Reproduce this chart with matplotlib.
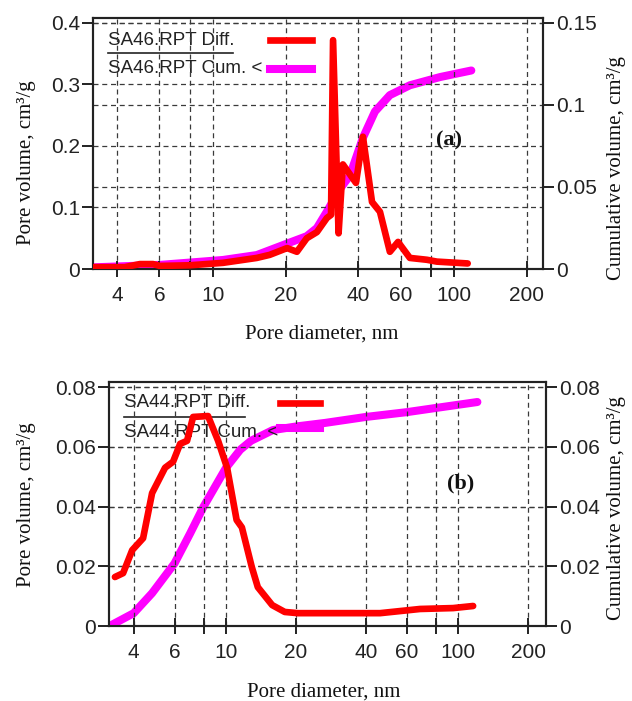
import numpy as np
import matplotlib
matplotlib.use("Agg")
import matplotlib.pyplot as plt
from matplotlib.lines import Line2D
from matplotlib.ticker import FixedLocator, FuncFormatter, NullFormatter

# ---- data ----
# (a) SA46
diam_a_diff = [3.18, 4.3, 4.98, 5.64, 6.03, 8.0, 11.0, 15.2, 17.2, 20.3, 22.3, 24.5, 27.0,
               29.7, 30.9, 31.5, 33.2, 34.6, 39.2, 41.9, 45.7, 49.3, 54.2, 58.6, 65.6,
               77.2, 84.9, 114]
diff_a = [0.003, 0.003, 0.008, 0.008, 0.005, 0.006, 0.010, 0.018, 0.023, 0.034, 0.028, 0.050,
          0.060, 0.083, 0.088, 0.372, 0.058, 0.17, 0.14, 0.215, 0.109, 0.093, 0.028, 0.044,
          0.018, 0.015, 0.012, 0.009]
diam_a_cum = [3.18, 6.03, 11.0, 15.2, 20.3, 24.5, 27.0, 29.7, 33.7, 37.0, 39.6, 41.9, 47.0,
              54.2, 65.6, 87.5, 118]
cum_a = [0.001, 0.0025, 0.0055, 0.0085, 0.0155, 0.020, 0.025, 0.035, 0.049, 0.057, 0.0695,
         0.080, 0.096, 0.106, 0.112, 0.117, 0.121]

# (b) SA44
diam_b_diff = [3.32, 3.60, 3.94, 4.39, 4.80, 5.46, 5.91, 6.34, 6.79, 7.21, 8.36, 9.24, 10.1,
               11.1, 11.7, 12.9, 13.7, 15.8, 17.9, 20.4, 26.7, 46.1, 68.5, 95.1, 116]
diff_b = [0.0164, 0.0177, 0.0254, 0.0294, 0.0445, 0.053, 0.055, 0.061, 0.062, 0.070, 0.0703,
          0.062, 0.053, 0.0355, 0.033, 0.0198, 0.013, 0.007, 0.0047, 0.0043, 0.0043, 0.0043,
          0.0057, 0.006, 0.0067]
diam_b_cum = [3.15, 4.0, 4.8, 6.0, 7.0, 8.0, 10.0, 11.5, 12.8, 15.9, 20.0, 26.7, 40.0, 60.0,
              80.0, 121]
cum_b = [0.0, 0.0043, 0.011, 0.021, 0.031, 0.040, 0.053, 0.059, 0.062, 0.0656, 0.0668, 0.068,
         0.070, 0.0716, 0.073, 0.075]

x_major = [4, 6, 10, 20, 40, 60, 100, 200]
x_minor = [8, 80]

SANS = 'Liberation Sans'
SERIF = 'Liberation Serif'
RED = '#ff0000'
MAG = '#ff00ff'
INK = '#222222'
GRID = dict(color='#3a3a3a', linestyle=(0, (4, 3)), linewidth=0.9)

W, H = 632, 701
fig = plt.figure(figsize=(W / 100, H / 100), dpi=100)


def fmt(v, pos=None):
    return '%g' % v


def panel(rect, xlim, yl, yr, yl_ticks, yr_ticks, d_diff, v_diff, d_cum, v_cum,
          names, tag, tag_xy, leg):
    ax = fig.add_axes(rect)
    axr = ax.twinx()
    ax.set_zorder(axr.get_zorder() + 1)
    ax.patch.set_visible(False)

    ax.set_xscale('log')
    ax.set_xlim(*xlim)
    ax.set_ylim(0, yl)
    axr.set_ylim(0, yr)
    ax.xaxis.set_major_locator(FixedLocator(x_major))
    ax.xaxis.set_minor_locator(FixedLocator(x_minor))
    ax.xaxis.set_major_formatter(FuncFormatter(fmt))
    ax.xaxis.set_minor_formatter(NullFormatter())
    ax.yaxis.set_major_locator(FixedLocator(yl_ticks))
    ax.yaxis.set_major_formatter(FuncFormatter(fmt))
    axr.yaxis.set_major_locator(FixedLocator(yr_ticks))
    axr.yaxis.set_major_formatter(FuncFormatter(fmt))

    ax.grid(True, which='both', axis='x', **GRID)
    ax.grid(True, axis='y', **GRID)
    axr.grid(True, axis='y', **GRID)

    ax.tick_params(axis='x', which='both', direction='inout', length=11, width=1.4,
                   pad=7, labelsize=15, colors=INK)
    ax.tick_params(axis='y', direction='out', length=8, width=1.4, pad=1.5,
                   labelsize=15, colors=INK)
    axr.tick_params(axis='y', direction='out', length=8, width=1.4, pad=1.5,
                    labelsize=15, colors=INK)
    for a in (ax, axr):
        for lab in a.get_xticklabels() + a.get_yticklabels():
            lab.set_family(SANS)
        for s in a.spines.values():
            s.set_linewidth(1.5)
            s.set_color(INK)

    ax.plot(d_diff, v_diff, color=RED, lw=4.8, zorder=3,
            solid_joinstyle='round', solid_capstyle='round')
    axr.plot(d_cum, v_cum, color=MAG, lw=5.8, zorder=3,
             solid_joinstyle='round', solid_capstyle='round')

    # legend block: label text, separator rule under the first entry, line samples
    tx, ty1, ty2, hx0, hx1, hy1, hy2, sep_x1, sep_y = leg
    for name, yy in zip(names, (ty1, ty2)):
        ax.text(tx, yy, name, transform=ax.transAxes, ha='left', va='center',
                family=SANS, fontsize=13.5, color=INK, zorder=1)
    ax.add_line(Line2D([tx, sep_x1], [sep_y, sep_y], transform=ax.transAxes,
                       color=INK, lw=1.2, zorder=1))
    ax.add_line(Line2D([hx0, hx1], [hy1, hy1], transform=ax.transAxes,
                       color=RED, lw=4.8, zorder=2))
    ax.add_line(Line2D([hx0, hx1], [hy2, hy2], transform=ax.transAxes,
                       color=MAG, lw=5.8, zorder=2))

    ax.text(tag_xy[0], tag_xy[1], tag, transform=ax.transAxes, ha='center', va='center',
            family=SERIF, fontweight='bold', fontsize=16, color='#111')
    return ax


# (a)
panel([93 / W, 1 - 269 / H, 450 / W, 251 / H], (3.18, 234), 0.408, 0.153,
      [0, 0.1, 0.2, 0.3, 0.4], [0, 0.05, 0.1, 0.15],
      diam_a_diff, diff_a, diam_a_cum, cum_a,
      ['SA46.RPT Diff.', 'SA46.RPT Cum. <'], '(a)', (0.791, 0.514),
      (0.033, 0.912, 0.797, 0.393, 0.487, 0.912, 0.797, 0.311, 0.861))

# (b)
panel([109 / W, 1 - 626 / H, 437 / W, 244 / H], (3.13, 239), 0.0817, 0.0817,
      [0, 0.02, 0.04, 0.06, 0.08], [0, 0.02, 0.04, 0.06, 0.08],
      diam_b_diff, diff_b, diam_b_cum, cum_b,
      ['SA44.RPT Diff.', 'SA44.RPT Cum. <'], '(b)', (0.805, 0.586),
      (0.034, 0.914, 0.795, 0.391, 0.483, 0.914, 0.811, 0.311, 0.857))

lab = dict(family=SERIF, fontsize=15, color='#111', ha='center', va='center')
fig.text(27 / W, 1 - 163 / H, 'Pore volume, cm³/g', rotation=90, **lab)
fig.text(617 / W, 1 - 168 / H, 'Cumulative volume, cm³/g', rotation=90, **lab)
fig.text(322 / W, 1 - 334 / H, 'Pore diameter, nm', **lab)
fig.text(27 / W, 1 - 505 / H, 'Pore volume, cm³/g', rotation=90, **lab)
fig.text(617 / W, 1 - 508 / H, 'Cumulative volume, cm³/g', rotation=90, **lab)
fig.text(324 / W, 1 - 692 / H, 'Pore diameter, nm', **lab)

fig.savefig('out.png', dpi=100)
